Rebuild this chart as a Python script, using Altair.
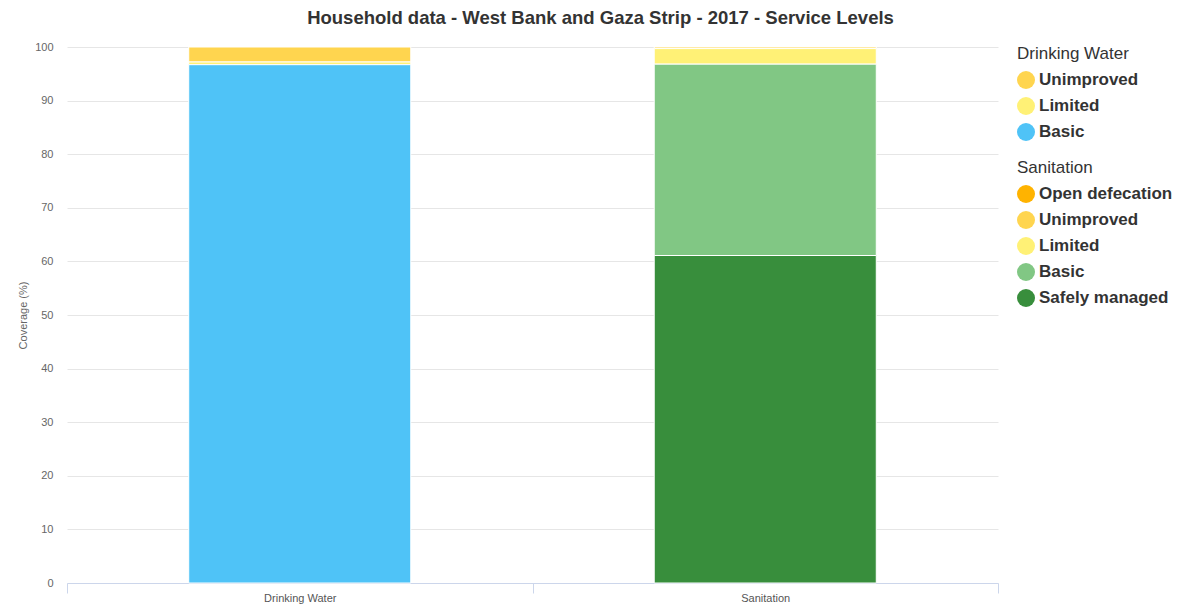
import altair as alt
import pandas as pd

services = ["Drinking Water", "Sanitation"]

dw_levels = ["Unimproved", "Limited", "Basic"]
dw_values = [2.8, 0.5, 96.7]
dw_colors = ["#FFD54F", "#FFF176", "#4FC3F7"]

san_levels = ["Open defecation", "Unimproved", "Limited", "Basic", "Safely managed"]
san_values = [0.0, 0.3, 2.9, 35.7, 61.1]
san_colors = ["#FFB300", "#FFD54F", "#FFF176", "#81C784", "#388E3C"]

y_ticks = [0, 10, 20, 30, 40, 50, 60, 70, 80, 90, 100]

FONT = "Liberation Sans"

dw_df = pd.DataFrame({
    "service": services[0],
    "level": dw_levels,
    "value": dw_values,
    "rank": list(range(len(dw_levels), 0, -1)),
})
san_df = pd.DataFrame({
    "service": services[1],
    "level": san_levels,
    "value": san_values,
    "rank": list(range(len(san_levels), 0, -1)),
})

x_enc = alt.X(
    "service:N",
    scale=alt.Scale(domain=services, paddingInner=0, paddingOuter=0),
    axis=alt.Axis(
        title=None, labelAngle=0, tickBand="extent", domainColor="#ccd6eb",
        tickColor="#ccd6eb", tickSize=10, labelPadding=-1, labelFontSize=11,
        labelColor="#555555", labelFont=FONT, grid=False,
    ),
)
y_enc = alt.Y(
    "value:Q",
    stack="zero",
    scale=alt.Scale(domain=[0, 100], nice=False),
    axis=alt.Axis(
        title="Coverage (%)", values=y_ticks, domain=False, ticks=False,
        gridColor="#e6e6e6", labelFontSize=11, labelColor="#666666",
        labelPadding=14, titleFontSize=11, titleFontWeight="normal",
        titleColor="#666666", titleFont=FONT, labelFont=FONT, titlePadding=6,
    ),
)

legend_common = dict(
    orient="none", symbolType="circle", symbolSize=324, symbolStrokeWidth=0,
    labelFontSize=17, labelFontWeight="bold", labelColor="#333333", labelFont=FONT,
    titleFontSize=17, titleFontWeight="normal", titleColor="#333333", titleFont=FONT,
    rowPadding=8, titlePadding=8, symbolOpacity=1, labelOffset=4,
)

dw_layer = alt.Chart(dw_df).mark_bar(
    width={"band": 0.477}, stroke="white", strokeWidth=1
).encode(
    x=x_enc,
    y=y_enc,
    order=alt.Order("rank:Q", sort="ascending"),
    color=alt.Color(
        "level:N",
        scale=alt.Scale(domain=dw_levels, range=dw_colors),
        legend=alt.Legend(title="Drinking Water", legendX=950, legendY=-1, **legend_common),
    ),
)

san_layer = alt.Chart(san_df).mark_bar(
    width={"band": 0.477}, stroke="white", strokeWidth=1
).encode(
    x=x_enc,
    y=y_enc,
    order=alt.Order("rank:Q", sort="ascending"),
    color=alt.Color(
        "level:N",
        scale=alt.Scale(domain=san_levels, range=san_colors),
        legend=alt.Legend(title="Sanitation", legendX=950, legendY=113, **legend_common),
    ),
)

chart = alt.layer(dw_layer, san_layer).resolve_scale(color="independent").properties(
    width=931,
    height=536,
    autosize=alt.AutoSizeParams(type="none"),
    padding={"left": 59, "top": 39, "right": 190, "bottom": 22},
    title=alt.TitleParams(
        "Household data - West Bank and Gaza Strip - 2017 - Service Levels",
        fontSize=18.5, fontWeight="bold", color="#333333", font=FONT,
        anchor="middle", dx=68, offset=14,
    ),
).configure_view(stroke=None)

chart.save("out.html", embed_options={"renderer": "svg", "actions": False})
